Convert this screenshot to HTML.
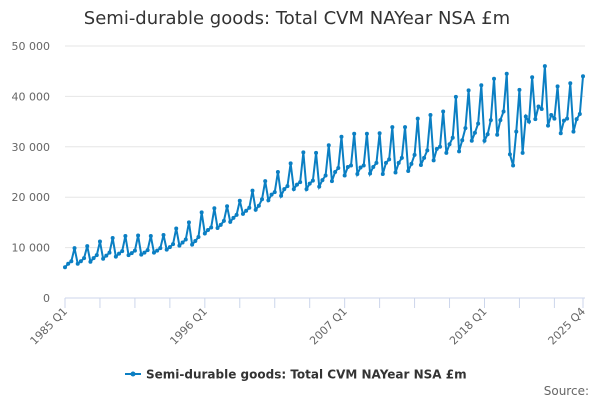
<!DOCTYPE html>
<html><head><meta charset="utf-8"><style>
body{margin:0;background:#fff;font-family:"DejaVu Sans","Liberation Sans",sans-serif;}
svg{display:block}
</style></head><body>
<svg id="chart" width="600" height="400">
<text x="297" y="24" text-anchor="middle" font-size="18" fill="#333">Semi-durable goods: Total CVM NAYear NSA £m</text>
<g id="grid"></g><g id="xaxis"></g><g id="series"></g>
<g>
<line x1="125" y1="374" x2="141" y2="374" stroke="#0b7fc3" stroke-width="2"/>
<circle cx="133" cy="374" r="2.5" fill="#0b7fc3"/>
<text x="146" y="378.5" font-size="12" font-weight="bold" fill="#333">Semi-durable goods: Total CVM NAYear NSA £m</text>
</g>
<text x="589" y="395" text-anchor="end" font-size="12" fill="#666">Source:</text>
</svg>
<script>
const startYear = 1985;
const values = [
6100,6800,7300,9900, 6800,7300,7900,10300, 7200,7900,8500,11200, 7800,8400,9000,11900,
8200,8800,9300,12300, 8500,8900,9400,12400, 8600,9000,9500,12300, 9000,9400,9900,12500,
9600,10100,10700,13800, 10400,11000,11600,15000, 10600,11300,12100,17000, 12800,13500,14000,17800,
13900,14500,15300,18200, 15100,15900,16500,19300, 16700,17300,17900,21300, 17500,18300,19600,23200,
19400,20500,21000,25000, 20300,21600,22200,26700, 21600,22500,23000,28900, 21600,22700,23300,28800,
22100,23400,24300,30300, 23200,25000,25800,32000, 24300,26000,26300,32600, 24600,25900,26300,32600,
24700,26000,26800,32700, 24600,26800,27500,33900, 24900,26800,27800,33900, 25200,26600,28400,35600,
26400,27800,29300,36300, 27300,29600,30000,37000, 28800,30500,31800,39900, 29100,31300,33700,41200,
31200,32800,34600,42200, 31200,32500,35300,43500, 32400,35300,37000,44500, 28500,26300,33000,41300,
28800,36000,35000,43800, 35500,38000,37500,46000, 34200,36300,35600,42000, 32700,35200,35600,42600,
33000,35500,36500,44000];
const yTicks = [0,10000,20000,30000,40000,50000];
const yTickLabels = ["0","10 000","20 000","30 000","40 000","50 000"];
const xLabels = ["1985 Q1","1996 Q1","2007 Q1","2018 Q1","2025 Q4"];
const xLabelIdx = [0,44,88,132,163];

const NS="http://www.w3.org/2000/svg";
const x0=65,x1=583,yb=298,yt=46;
const n=values.length;
const xs=i=>x0+(x1-x0)*i/(n-1);
const ys=v=>yb-(yb-yt)*v/50000;
function mk(tag,attrs,parent){const e=document.createElementNS(NS,tag);for(const k in attrs)e.setAttribute(k,attrs[k]);parent.appendChild(e);return e;}
const grid=document.getElementById('grid');
yTicks.forEach((t,i)=>{
 if(t>0){const l=mk('line',{x1:x0,x2:585,y1:ys(t),y2:ys(t),stroke:'#e6e6e6'},grid);
 
 }
 const tx=mk('text',{x:50,y:ys(t)+4,'text-anchor':'end','font-size':11,fill:'#666'},grid);
 tx.textContent=yTickLabels[i];
 
 
});
const xa=document.getElementById('xaxis');
const ax=mk('line',{x1:x0,x2:585,y1:yb,y2:yb,stroke:'#ccd6eb'},xa);


for(let i=0;i<n;i+=11){const t=mk('line',{x1:xs(i),x2:xs(i),y1:yb,y2:yb+10,stroke:'#ccd6eb'},xa);
 
 }
const tl=mk('line',{x1:xs(n-1),x2:xs(n-1),y1:yb,y2:yb+10,stroke:'#ccd6eb'},xa);


xLabels.forEach((s,k)=>{const x=xs(xLabelIdx[k]);
 const tx=mk('text',{x:x+3,y:yb+14,'text-anchor':'end','font-size':11,fill:'#666',transform:`rotate(-45 ${x+3} ${yb+14})`},xa);
 tx.textContent=s;
 
 });
const sg=document.getElementById('series');
const p=mk('polyline',{points:values.map((v,i)=>xs(i)+','+ys(v)).join(' '),fill:'none',stroke:'#0b7fc3','stroke-width':2},sg);


values.forEach((v,i)=>{const c=mk('circle',{cx:xs(i),cy:ys(v),r:2,fill:'#0b7fc3'},sg);
 
 });
</script>
</body></html>
